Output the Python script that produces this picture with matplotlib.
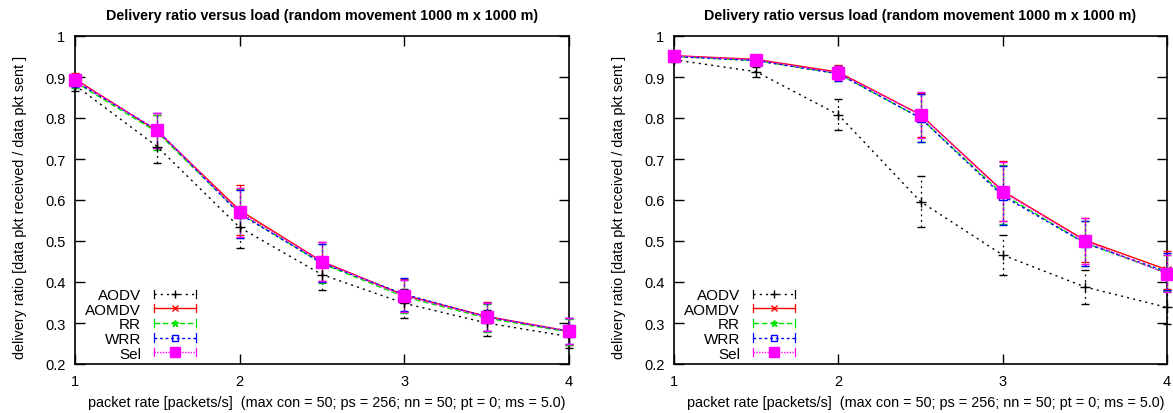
import matplotlib
matplotlib.use('Agg')
import matplotlib.pyplot as plt
from matplotlib.lines import Line2D
from matplotlib.legend_handler import HandlerLine2D

plt.rcParams['font.family'] = ['Liberation Sans', 'DejaVu Sans']

rate = [1, 1.5, 2, 2.5, 3, 3.5, 4]
names = ['AODV', 'AOMDV', 'RR', 'WRR', 'Sel']

# left panel
left_vals = {
    'AODV':  [0.880, 0.730, 0.533, 0.418, 0.348, 0.300, 0.267],
    'AOMDV': [0.895, 0.768, 0.575, 0.450, 0.368, 0.316, 0.280],
    'RR':    [0.888, 0.765, 0.568, 0.445, 0.364, 0.312, 0.278],
    'WRR':   [0.890, 0.770, 0.566, 0.446, 0.370, 0.315, 0.280],
    'Sel':   [0.893, 0.770, 0.570, 0.450, 0.366, 0.315, 0.280],
}
left_err = {
    'AODV':  [0.015, 0.040, 0.050, 0.037, 0.036, 0.031, 0.027],
    'AOMDV': [0.015, 0.040, 0.061, 0.048, 0.040, 0.035, 0.033],
    'RR':    [0.015, 0.042, 0.060, 0.048, 0.040, 0.035, 0.032],
    'WRR':   [0.015, 0.043, 0.058, 0.047, 0.040, 0.035, 0.032],
    'Sel':   [0.015, 0.042, 0.060, 0.047, 0.040, 0.035, 0.032],
}

# right panel
right_vals = {
    'AODV':  [0.942, 0.913, 0.808, 0.596, 0.466, 0.388, 0.338],
    'AOMDV': [0.952, 0.943, 0.912, 0.808, 0.622, 0.502, 0.430],
    'RR':    [0.950, 0.940, 0.908, 0.800, 0.614, 0.495, 0.422],
    'WRR':   [0.950, 0.940, 0.908, 0.800, 0.610, 0.495, 0.425],
    'Sel':   [0.952, 0.942, 0.910, 0.808, 0.620, 0.500, 0.420],
}
right_err = {
    'AODV':  [0.005, 0.012, 0.038, 0.063, 0.048, 0.042, 0.040],
    'AOMDV': [0.005, 0.010, 0.018, 0.054, 0.073, 0.054, 0.046],
    'RR':    [0.005, 0.010, 0.018, 0.058, 0.072, 0.055, 0.045],
    'WRR':   [0.005, 0.010, 0.018, 0.058, 0.072, 0.055, 0.045],
    'Sel':   [0.005, 0.010, 0.018, 0.056, 0.072, 0.055, 0.045],
}

colors = {'AODV': 'black', 'AOMDV': '#ff0000', 'RR': '#00e000', 'WRR': '#0000ff', 'Sel': '#ff00ff'}
styles = {'AODV': (0, (1.5, 3)), 'AOMDV': '-', 'RR': (0, (4, 2)), 'WRR': (0, (2, 2)), 'Sel': (0, (1, 1))}
markers = {'AODV': '+', 'AOMDV': 'x', 'RR': '*', 'WRR': 's', 'Sel': 's'}
mfaces = {'AODV': 'black', 'AOMDV': '#ff0000', 'RR': '#00e000', 'WRR': 'none', 'Sel': '#ff00ff'}
msizes = {'AODV': 7, 'AOMDV': 6, 'RR': 6, 'WRR': 6, 'Sel': 8}


class CapHandler(HandlerLine2D):
    # gnuplot style legend sample: line with end caps
    def create_artists(self, legend, orig_handle, xdescent, ydescent,
                       width, height, fontsize, trans):
        arts = super().create_artists(legend, orig_handle, xdescent, ydescent,
                                      width, height, fontsize, trans)
        y = height / 2 - ydescent
        for x in (-xdescent, -xdescent + width):
            cap = Line2D([x, x], [y - 3, y + 3], color=orig_handle.get_color(),
                         lw=0.9, transform=trans)
            arts.append(cap)
        return arts


fig = plt.figure(figsize=(11.73, 4.14), dpi=100)
ax1 = fig.add_axes([75 / 1173, 49 / 414, 494 / 1173, 328 / 414])
ax2 = fig.add_axes([674 / 1173, 49 / 414, 493 / 1173, 328 / 414])

for ax, vals, errs in [(ax1, left_vals, left_err), (ax2, right_vals, right_err)]:
    handles = []
    for n in names:
        eb = ax.errorbar(rate, vals[n], yerr=errs[n], color=colors[n], ls=styles[n],
                         lw=1.0, marker=markers[n], mfc=mfaces[n], mec=colors[n],
                         ms=msizes[n], capsize=3, elinewidth=0.9, clip_on=False, zorder=3)
        eb[2][0].set_linestyle(styles[n])
        handles.append(Line2D([], [], color=colors[n], ls=styles[n], lw=1.0,
                              marker=markers[n], mfc=mfaces[n], mec=colors[n],
                              ms=msizes[n] - 1, label=n))
    ax.set_xlim(1, 4)
    ax.set_ylim(0.2, 1.0)
    ax.set_xticks([1, 2, 3, 4])
    ax.set_xticklabels(['1', '2', '3', '4'])
    ax.set_yticks([0.2, 0.3, 0.4, 0.5, 0.6, 0.7, 0.8, 0.9, 1.0])
    ax.set_yticklabels(['0.2', '0.3', '0.4', '0.5', '0.6', '0.7', '0.8', '0.9', '1'])
    ax.tick_params(direction='in', length=7, width=1, top=True, right=True,
                   labelsize=10.5, pad=7)
    for s in ax.spines.values():
        s.set_linewidth(1.2)
    ax.set_title('Delivery ratio versus load (random movement 1000 m x 1000 m)',
                 fontsize=10.3, fontweight='bold', pad=12)
    ax.set_xlabel('packet rate [packets/s]  (max con = 50; ps = 256; nn = 50; pt = 0; ms = 5.0)',
                  fontsize=10.4, labelpad=4)
    ax.xaxis.set_label_coords(0.51, -0.095)
    ax.set_ylabel('delivery ratio [data pkt received / data pkt sent ]', fontsize=10.4)
    ax.yaxis.set_label_coords(-0.097, 0.48)
    ax.legend(handles=handles, loc='lower left', markerfirst=False, frameon=False,
              fontsize=11, handlelength=2.75, handletextpad=0.85, labelspacing=0.04,
              borderaxespad=0.0, bbox_to_anchor=(0.008, -0.008),
              handler_map={Line2D: CapHandler()})

fig.savefig('out.png', dpi=100)
